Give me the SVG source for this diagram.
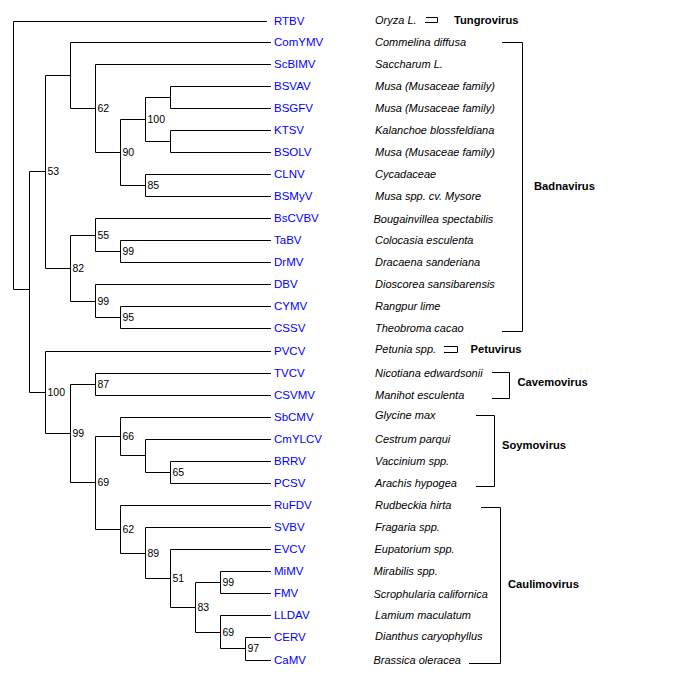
<svg xmlns="http://www.w3.org/2000/svg" width="678" height="688" viewBox="0 0 678 688">
<style>
.e{fill:none;stroke:#000;stroke-width:1}
.lf{font-family:"Liberation Sans",Arial,sans-serif;font-size:11.5px;fill:#0000ff}
.h{font-family:"Liberation Sans",Arial,sans-serif;font-size:11px;font-style:italic;fill:#000}
.s{font-family:"Liberation Sans",Arial,sans-serif;font-size:10.5px;fill:#000}
.g{font-family:"Liberation Sans",Arial,sans-serif;font-size:11.2px;font-weight:bold;fill:#000}
</style>
<rect width="678" height="688" fill="#fff"/>
<g id="connectors" class="e">
<path d="M267 21.5H13.5V289.5H29.5"/>
<path d="M45.5 171.5H29.5V392.5H45.5"/>
<path d="M70.5 75.5H45.5V268.5H70.5"/>
<path d="M271 42.5H70.5V108.5H95.5"/>
<path d="M271 64.5H95.5V152.5H120.5"/>
<path d="M145.5 119.5H120.5V185.5H145.5"/>
<path d="M170.5 97.5H145.5V141.5H170.5"/>
<path d="M271 86.5H170.5V108.5H271"/>
<path d="M271 130.5H170.5V152.5H271"/>
<path d="M271 174.5H145.5V196.5H271"/>
<path d="M95.5 235.5H70.5V301.5H95.5"/>
<path d="M271 218.5H95.5V251.5H120.5"/>
<path d="M271 240.5H120.5V262.5H271"/>
<path d="M271 284.5H95.5V317.5H120.5"/>
<path d="M271 306.5H120.5V328.5H271"/>
<path d="M271 351.5H45.5V433.5H70.5"/>
<path d="M95.5 384.5H70.5V482.5H95.5"/>
<path d="M271 373.5H95.5V395.5H271"/>
<path d="M120.5 436.5H95.5V529.5H120.5"/>
<path d="M271 417.5H120.5V455.5H145.5"/>
<path d="M271 439.5H145.5V472.5H170.5"/>
<path d="M271 461.5H170.5V483.5H271"/>
<path d="M271 505.5H120.5V553.5H145.5"/>
<path d="M271 527.5H145.5V578.5H170.5"/>
<path d="M271 549.5H170.5V607.5H195.5"/>
<path d="M220.5 582.5H195.5V632.5H220.5"/>
<path d="M271 571.5H220.5V593.5H271"/>
<path d="M271 615.5H220.5V648.5H245.5"/>
<path d="M271 637.5H245.5V660.5H271"/>
</g>
<g id="support" class="s">
<text x="97.5" y="111.5">62</text>
<text x="147.5" y="122.5">100</text>
<text x="122.5" y="155.5">90</text>
<text x="147.5" y="188.5">85</text>
<text x="47.5" y="174.5">53</text>
<text x="97.5" y="238.5">55</text>
<text x="122.5" y="254.5">99</text>
<text x="72.5" y="271.5">82</text>
<text x="97.5" y="304.5">99</text>
<text x="122.5" y="320.5">95</text>
<text x="47.5" y="395.5">100</text>
<text x="97.5" y="387.5">87</text>
<text x="72.5" y="436.5">99</text>
<text x="122.5" y="439.5">66</text>
<text x="172.5" y="475.5">65</text>
<text x="97.5" y="485.5">69</text>
<text x="122.5" y="532.5">62</text>
<text x="147.5" y="556.5">89</text>
<text x="172.5" y="581.5">51</text>
<text x="197.5" y="610.5">83</text>
<text x="222.5" y="585.5">99</text>
<text x="222.5" y="635.5">69</text>
<text x="247.5" y="651.5">97</text>
</g>
<g id="leaves">
<g id="RTBV"><text class="lf" x="274" y="24.5">RTBV</text><text class="h" x="375" y="24">Oryza L.</text></g>
<g id="ComYMV"><text class="lf" x="274" y="46">ComYMV</text><text class="h" x="375" y="46">Commelina diffusa</text></g>
<g id="ScBIMV"><text class="lf" x="274" y="68">ScBIMV</text><text class="h" x="375" y="68">Saccharum L.</text></g>
<g id="BSVAV"><text class="lf" x="274" y="90">BSVAV</text><text class="h" x="375" y="90">Musa (Musaceae family)</text></g>
<g id="BSGFV"><text class="lf" x="274" y="112">BSGFV</text><text class="h" x="375" y="112">Musa (Musaceae family)</text></g>
<g id="KTSV"><text class="lf" x="274" y="134">KTSV</text><text class="h" x="375" y="134">Kalanchoe blossfeldiana</text></g>
<g id="BSOLV"><text class="lf" x="274" y="156">BSOLV</text><text class="h" x="375" y="156">Musa (Musaceae family)</text></g>
<g id="CLNV"><text class="lf" x="274" y="178">CLNV</text><text class="h" x="375" y="177.5">Cycadaceae</text></g>
<g id="BSMyV"><text class="lf" x="274" y="200">BSMyV</text><text class="h" x="375" y="199.5">Musa spp. cv. Mysore</text></g>
<g id="BsCVBV"><text class="lf" x="274" y="222">BsCVBV</text><text class="h" x="373.5" y="222.5">Bougainvillea spectabilis</text></g>
<g id="TaBV"><text class="lf" x="274" y="244">TaBV</text><text class="h" x="375" y="243.5">Colocasia esculenta</text></g>
<g id="DrMV"><text class="lf" x="274" y="266">DrMV</text><text class="h" x="375" y="265.5">Dracaena sanderiana</text></g>
<g id="DBV"><text class="lf" x="274" y="288">DBV</text><text class="h" x="375" y="287.5">Dioscorea sansibarensis</text></g>
<g id="CYMV"><text class="lf" x="274" y="310">CYMV</text><text class="h" x="375" y="309.5">Rangpur lime</text></g>
<g id="CSSV"><text class="lf" x="274" y="332">CSSV</text><text class="h" x="375" y="331.5">Theobroma cacao</text></g>
<g id="PVCV"><text class="lf" x="274" y="355">PVCV</text><text class="h" x="375" y="353">Petunia spp.</text></g>
<g id="TVCV"><text class="lf" x="274" y="377">TVCV</text><text class="h" x="375" y="376.5">Nicotiana edwardsonii</text></g>
<g id="CSVMV"><text class="lf" x="274" y="399">CSVMV</text><text class="h" x="375" y="398.5">Manihot esculenta</text></g>
<g id="SbCMV"><text class="lf" x="274" y="421">SbCMV</text><text class="h" x="375" y="419">Glycine max</text></g>
<g id="CmYLCV"><text class="lf" x="274" y="443">CmYLCV</text><text class="h" x="375" y="442.5">Cestrum parqui</text></g>
<g id="BRRV"><text class="lf" x="274" y="465">BRRV</text><text class="h" x="375" y="465">Vaccinium spp.</text></g>
<g id="PCSV"><text class="lf" x="274" y="487">PCSV</text><text class="h" x="375" y="486.5">Arachis hypogea</text></g>
<g id="RuFDV"><text class="lf" x="274" y="509">RuFDV</text><text class="h" x="375" y="508.5">Rudbeckia hirta</text></g>
<g id="SVBV"><text class="lf" x="274" y="531">SVBV</text><text class="h" x="375" y="530.5">Fragaria spp.</text></g>
<g id="EVCV"><text class="lf" x="274" y="553">EVCV</text><text class="h" x="374.5" y="552.5">Eupatorium spp.</text></g>
<g id="MiMV"><text class="lf" x="274" y="575">MiMV</text><text class="h" x="373.5" y="575">Mirabilis spp.</text></g>
<g id="FMV"><text class="lf" x="274" y="597">FMV</text><text class="h" x="373.5" y="597.5">Scrophularia californica</text></g>
<g id="LLDAV"><text class="lf" x="274" y="619">LLDAV</text><text class="h" x="375" y="618.5">Lamium maculatum</text></g>
<g id="CERV"><text class="lf" x="274" y="641">CERV</text><text class="h" x="375" y="640">Dianthus caryophyllus</text></g>
<g id="CaMV"><text class="lf" x="274" y="663.5">CaMV</text><text class="h" x="373.5" y="664">Brassica oleracea</text></g>
</g>
<g id="genera">
<g id="Tungrovirus"><path class="e" d="M426 17.5H437.5V22.5H425"/><text class="g" x="454" y="23.5">Tungrovirus</text></g>
<g id="Badnavirus"><path class="e" d="M502 42.5H522.5V331.5H502"/><text class="g" x="534" y="189.5">Badnavirus</text></g>
<g id="Petuvirus"><path class="e" d="M444 346.5H457.5V352.5H444"/><text class="g" x="470.5" y="353">Petuvirus</text></g>
<g id="Cavemovirus"><path class="e" d="M492 372.5H509.5V398.5H492"/><text class="g" x="517.5" y="386">Cavemovirus</text></g>
<g id="Soymovirus"><path class="e" d="M476 415.5H494.5V486.5H476"/><text class="g" x="502" y="448.5">Soymovirus</text></g>
<g id="Caulimovirus"><path class="e" d="M481 507.5H500.5V663.5H469"/><text class="g" x="508" y="587.5">Caulimovirus</text></g>
</g>
</svg>
